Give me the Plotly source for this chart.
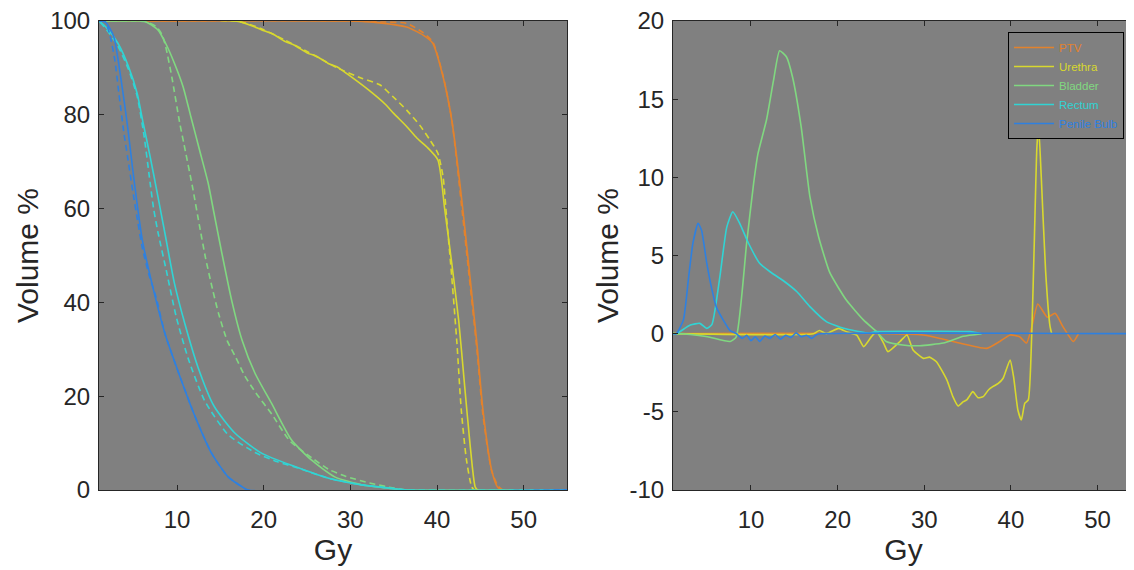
import plotly.graph_objects as go

# ---------------- DATA ----------------
structures = ["PTV", "Urethra", "Bladder", "Rectum", "Penile Bulb"]

# Left panel: cumulative DVH, plan A (solid) and plan B (dashed); dose in Gy, volume in %
ptv_dose_a = [0, 30, 33.4, 36.5, 38.4, 39.5, 40.7, 41.7, 42.9, 43.6, 44.6, 45.3, 46.3, 47.0, 47.6, 55]
ptv_vol_a = [100, 100, 99.6, 98.7, 97.0, 95.3, 88.1, 78.9, 61.2, 49.0, 31.3, 17.1, 4.3, 0.6, 0, 0]
ptv_dose_b = [0, 30, 33.4, 36.5, 38.4, 39.5, 40.7, 41.7, 42.9, 43.6, 44.6, 45.3, 46.3, 47.0, 47.6, 55]
ptv_vol_b = [100, 100, 99.8, 99.5, 97.5, 95.6, 88.3, 79.0, 59.5, 47.5, 30.0, 16.0, 4.1, 1.0, 0, 0]

ure_dose_a = [0, 17.1, 19.8, 21.0, 22.5, 23.5, 25.1, 26.0, 27.4, 28.5, 29.8, 32.1, 34.0, 35.0, 36.5, 37.7,
              38.8, 40.1, 40.9, 41.7, 42.5, 43.2, 43.8, 44.4, 44.7, 55]
ure_vol_a = [100, 99.9, 98.1, 97.3, 95.6, 94.9, 93.1, 92.6, 91.0, 90.2, 88.5, 85.3, 82.3, 80.3, 77.5, 75.0,
             73.2, 70.4, 59.7, 48.4, 36.2, 22.0, 10.0, 0.7, 0, 0]
ure_dose_b = [0, 17.1, 19.8, 22.5, 25.1, 26.5, 28.6, 31.3, 33.4, 34.9, 36.5, 38.0, 39.2, 40.1, 40.7, 41.1,
              41.7, 42.3, 42.8, 43.4, 44.0, 44.3, 55]
ure_vol_b = [100, 99.9, 98.3, 95.9, 93.4, 92.0, 89.9, 87.8, 86.4, 83.9, 81.0, 77.8, 74.6, 71.8, 66.8, 58.3,
             45.5, 31.3, 17.1, 6.4, 0.7, 0, 0]

bla_dose_a = [0, 5.0, 6.3, 7.8, 8.7, 9.7, 10.7, 11.6, 12.6, 13.6, 14.2, 15.1, 16.3, 17.5, 19.0, 20.9, 23.2,
              25.5, 28.2, 31.3, 34.4, 36.5, 55]
bla_vol_a = [100, 100, 99.9, 98.1, 95.2, 91.0, 86.0, 79.6, 72.5, 65.4, 59.7, 51.2, 40.5, 32.0, 24.9, 18.5, 10.7,
             6.4, 2.8, 1.1, 0.4, 0, 0]
bla_dose_b = [0, 5.0, 6.3, 7.6, 8.3, 8.7, 9.4, 10.3, 10.8, 11.8, 12.6, 13.3, 14.1, 14.8, 15.8, 16.8, 17.8,
              19.1, 21.0, 23.0, 25.6, 27.5, 29.5, 32.2, 34.5, 36.5, 55]
bla_vol_b = [100, 100, 99.9, 98.8, 97.0, 94.5, 88.1, 78.4, 73.8, 64.5, 56.3, 49.4, 42.8, 37.6, 31.8, 28.2,
             24.4, 20.7, 16.0, 10.5, 6.8, 4.4, 2.9, 1.5, 0.6, 0, 0]

rec_dose_a = [0, 1.0, 2.1, 3.2, 4.4, 5.4, 6.1, 6.9, 7.7, 8.6, 9.7, 10.9, 12.4, 14.3, 16.7, 19.8, 23.6, 27.5,
              31.3, 34.5, 36.5, 55]
rec_vol_a = [100, 99.9, 98.1, 95.2, 90.3, 84.6, 78.2, 71.1, 63.5, 54.8, 44.1, 35.5, 26.3, 17.8, 12.1, 7.8, 5.0,
             2.5, 1.1, 0.4, 0, 0]
rec_dose_b = [0, 1.0, 2.1, 3.2, 4.4, 5.4, 6.2, 6.9, 7.3, 7.8, 8.8, 9.9, 11.3, 13.2, 15.9, 19.0, 21.6, 23.6,
              27.5, 31.3, 34.5, 36.5, 55]
rec_vol_b = [100, 99.9, 97.6, 94.6, 89.7, 84.0, 75.5, 65.5, 60.0, 55.0, 46.5, 37.0, 28.0, 19.0, 11.8, 8.0, 6.0,
             4.9, 2.5, 1.1, 0.4, 0, 0]

pb_dose_a = [0, 1.0, 1.7, 2.7, 3.5, 4.3, 4.9, 5.4, 6.0, 7.1, 8.6, 10.2, 12.1, 14.0, 15.9, 17.5, 18.2, 55]
pb_vol_a = [100, 100, 99.9, 96.7, 88.1, 77.5, 68.2, 61.0, 53.3, 44.1, 33.4, 24.9, 15.6, 7.8, 2.8, 0.7, 0, 0]
pb_dose_b = [0, 1.0, 1.7, 2.2, 2.8, 3.3, 3.9, 4.3, 4.9, 5.5, 6.0, 6.8, 7.6, 8.6, 10.2, 12.1, 14.0, 15.9,
             17.5, 18.2, 55]
pb_vol_b = [100, 100, 99.8, 97.4, 92.0, 84.5, 75.8, 71.0, 63.7, 56.9, 51.6, 45.7, 41.0, 33.4, 24.9, 15.6, 7.8,
            2.8, 0.7, 0, 0]

# Right panel: volume difference (%) vs dose (Gy)
ptv_diff_dose = [1, 29.9, 33.3, 37.2, 38.7, 39.9, 41.0, 41.8, 42.4, 43.1, 44.2, 45.1, 46.0, 47.2, 47.8]
ptv_diff = [0, -0.08, -0.5, -0.94, -0.5, -0.08, -0.2, -0.6, 0.43, 1.9, 1.05, 1.3, 0.45, -0.5, 0]

ure_diff_dose = [1, 17.2, 17.9, 18.7, 20.1, 21.1, 22.2, 23.0, 23.9, 24.5, 25.3, 25.8, 27.2, 28.0, 28.7, 29.9,
                 30.6, 31.4, 32.6, 33.3, 33.9, 34.5, 34.9, 35.2, 35.6, 36.2, 36.8, 37.4, 37.9, 38.5, 39.1,
                 39.9, 40.3, 40.8, 41.2, 41.6, 42.0, 42.4, 42.7, 43.0, 43.2, 43.5, 44.0, 44.5, 44.7]
ure_diff = [0, 0, 0.2, 0, 0.34, 0.1, -0.09, -0.83, -0.19, 0.13, -0.6, -1.15, -0.5, -0.08, -1.04, -1.58,
            -1.5, -1.8, -2.96, -4.03, -4.63, -4.35, -4.24, -4.0, -3.71, -4.1, -4.03, -3.6, -3.39, -3.2, -2.85,
            -1.68, -2.75, -4.88, -5.52, -4.45, -4.24, 0, 6.0, 12.0, 13.2, 10.0, 4.0, 0.5, 0]

bla_diff_dose = [1, 1.4, 3, 5, 7.6, 8.3, 9.5, 10.3, 10.8, 11.8, 12.6, 13.3, 14.1, 14.8, 15.8, 16.8, 17.8,
                 19.1, 21.0, 23.0, 24.5, 25.6, 27.5, 29.5, 32.2, 34.5, 36.6]
bla_diff = [0, 0, -0.05, -0.2, -0.5, -0.2, 5.8, 9.6, 11.5, 13.7, 16.2, 18.1, 17.7, 16.4, 13.2, 8.76, 6.2,
            3.9, 2.15, 0.87, 0.13, -0.5, -0.72, -0.77, -0.6, -0.17, 0]

rec_diff_dose = [1, 1.4, 3.0, 4.1, 4.9, 5.5, 6.4, 7.2, 7.9, 8.7, 9.7, 11.0, 12.2, 13.7, 15.3, 16.8, 18.7,
                 20.7, 23.7, 24.4, 30, 35.3, 36.6]
rec_diff = [0, 0, 0.55, 0.66, 0.34, 0.6, 3.6, 6.8, 7.8, 7.06, 5.8, 4.5, 3.96, 3.4, 2.68, 1.73, 0.77,
            0.34, 0.03, 0.13, 0.15, 0.13, 0]

pb_diff_dose = [1, 1.4, 2.2, 2.8, 3.3, 3.9, 4.3, 4.9, 5.5, 6.0, 6.8, 7.6, 8.3, 9.0, 9.5, 10.0, 10.5, 11.0,
                11.6, 12.2, 12.8, 13.4, 14.0, 14.6, 15.2, 15.8, 16.4, 17.0, 17.6, 18.0, 55]
pb_diff = [0, 0, 0.87, 3.6, 5.8, 7.06, 6.6, 4.5, 2.8, 1.7, 0.87, 0.19, 0, -0.3, -0.1, -0.45, -0.2, -0.5,
           -0.15, -0.3, -0.05, -0.35, -0.1, -0.25, 0.05, -0.2, -0.1, -0.3, -0.05, 0, 0]

x_ticks = [10, 20, 30, 40, 50]
left_y_ticks = [0, 20, 40, 60, 80, 100]
left_y_ticktext = ["0", "20", "40", "60", "80", "100"]
right_y_ticks = [-10, -5, 0, 5, 10, 15, 20]
right_y_ticktext = ["-10", "-5", "0", "5", "10", "15", "20"]

# ---------------- STYLE ----------------
colors = ["#E3822C", "#D8D82E", "#80D880", "#30D4D4", "#2E80E0"]
# page has an 8px body margin: figure is sized so page coords = fig coords + 8
OFF = 8
W, H = 1134 - OFF, 570 - OFF
MT = 21 - OFF
MB = H - (490 - OFF)
axis_col = "#262626"
font_fam = "Liberation Sans, Arial, Helvetica, sans-serif"

dvh_a = [(ptv_dose_a, ptv_vol_a), (ure_dose_a, ure_vol_a), (bla_dose_a, bla_vol_a),
         (rec_dose_a, rec_vol_a), (pb_dose_a, pb_vol_a)]
dvh_b = [(ptv_dose_b, ptv_vol_b), (ure_dose_b, ure_vol_b), (bla_dose_b, bla_vol_b),
         (rec_dose_b, rec_vol_b), (pb_dose_b, pb_vol_b)]
diffs = [(ptv_diff_dose, ptv_diff), (ure_diff_dose, ure_diff), (bla_diff_dose, bla_diff),
         (rec_diff_dose, rec_diff), (pb_diff_dose, pb_diff)]

fig = go.Figure()
lw = 1.6
for i, name in enumerate(structures):
    d, v = dvh_a[i]
    fig.add_trace(go.Scatter(x=d, y=v, mode="lines", xaxis="x", yaxis="y", showlegend=False,
                             line=dict(color=colors[i], width=lw, shape="spline", smoothing=0.6)))
    d, v = dvh_b[i]
    fig.add_trace(go.Scatter(x=d, y=v, mode="lines", xaxis="x", yaxis="y", showlegend=False,
                             line=dict(color=colors[i], width=lw, dash="6px,4px",
                                       shape="spline", smoothing=0.6)))
for i, name in enumerate(structures):
    d, v = diffs[i]
    fig.add_trace(go.Scatter(x=d, y=v, mode="lines", xaxis="x2", yaxis="y2",
                             name=f"<span style='color:{colors[i]}'>{name}</span>",
                             line=dict(color=colors[i], width=lw, shape="spline", smoothing=0.5)))

pl0, pl1 = 99 - OFF, 567 - OFF
pr0 = 673 - OFF

common_ax = dict(showgrid=False, zeroline=False, showline=True, linecolor=axis_col, linewidth=1,
                 ticks="inside", ticklen=5, tickcolor=axis_col, tickwidth=1,
                 tickfont=dict(family=font_fam, size=24, color=axis_col),
                 ticklabeloverflow="allow", automargin=False)
title_font = dict(family=font_fam, size=30, color=axis_col)

fig.update_layout(
    width=W, height=H,
    margin=dict(l=0, r=0, t=MT, b=MB),
    paper_bgcolor="white",
    plot_bgcolor="#808080",
    xaxis=dict(domain=[pl0 / W, pl1 / W], range=[1, 55], tickvals=x_ticks,
               mirror="ticks", anchor="y", ticklabelstandoff=8,
               title=dict(text="Gy", font=title_font, standoff=6), **common_ax),
    yaxis=dict(domain=[0, 1], range=[0, 100], tickvals=left_y_ticks, ticktext=left_y_ticktext,
               mirror="ticks", anchor="x", ticklabelstandoff=3,
               title=dict(text="Volume %", font=title_font, standoff=2), **common_ax),
    xaxis2=dict(domain=[pr0 / W, 1.0], range=[1, 54.2], tickvals=x_ticks,
                mirror="ticks", anchor="y2", ticklabelstandoff=8,
                title=dict(text="Gy", font=title_font, standoff=6), **common_ax),
    yaxis2=dict(domain=[0, 1], range=[-10, 20], tickvals=right_y_ticks,
                ticktext=right_y_ticktext, mirror=False, anchor="x2", ticklabelstandoff=3,
                title=dict(text="Volume %", font=title_font, standoff=2), **common_ax),
    legend=dict(x=(1008 - OFF) / W, y=(490 - 32) / 469, xanchor="left", yanchor="top",
                bgcolor="#808080", bordercolor="black", borderwidth=1,
                font=dict(family=font_fam, size=11.5, color="black"),
                itemwidth=40, tracegroupgap=0),
)

fig.write_html("out.html")
